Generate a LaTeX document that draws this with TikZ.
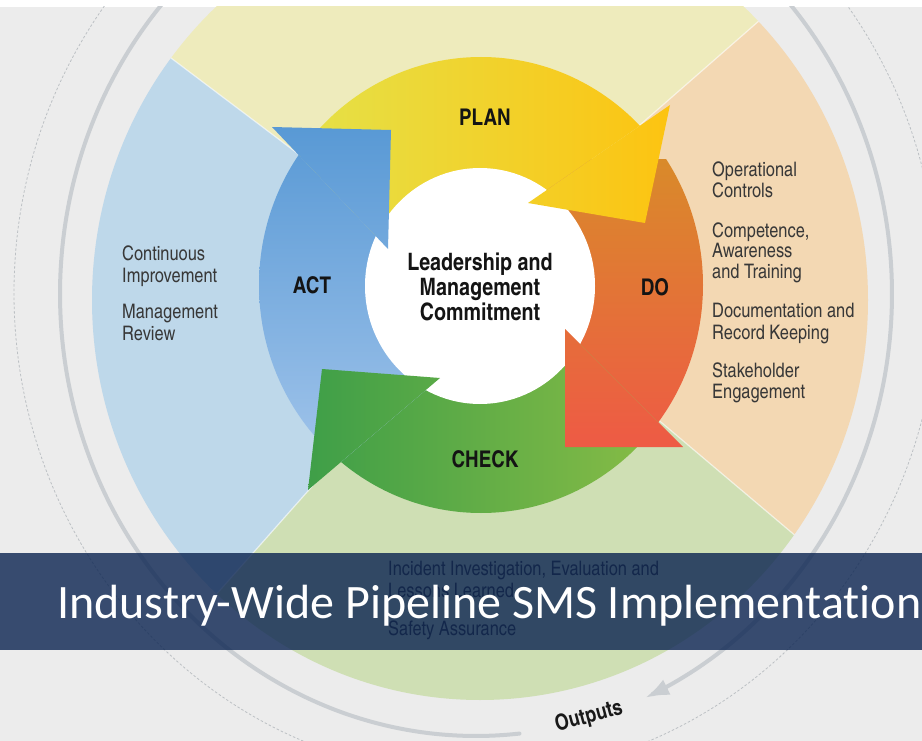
\documentclass[tikz,border=0pt]{standalone}
\usepackage{fontspec}
\usetikzlibrary{arrows.meta}
\newfontfamily\condfont{texgyreheroscn}[Extension=.otf, UprightFont=*-regular, BoldFont=*-bold]
\newfontfamily\bannerfont{Carlito}[Ligatures=NoCommon]
\definecolor{bg}{HTML}{ECECEC}
\definecolor{secY}{HTML}{EEEBBC}
\definecolor{secB}{HTML}{BED8EA}
\definecolor{secO}{HTML}{F3D8B3}
\definecolor{secG}{HTML}{CFDFB4}
\definecolor{ringgray}{HTML}{CACED2}
\definecolor{dashgray}{HTML}{BCC0C4}
\definecolor{planL}{HTML}{E4E24A}
\definecolor{planR}{HTML}{FEC20E}
\definecolor{actT}{HTML}{5597D4}
\definecolor{actB}{HTML}{A6C7EC}
\definecolor{doT}{HTML}{D98A2A}
\definecolor{doB}{HTML}{EF5846}
\definecolor{chkL}{HTML}{3D9E48}
\definecolor{chkR}{HTML}{8CBE45}
\definecolor{txt}{HTML}{383838}
\definecolor{bannercol}{RGB}{10,35,80}
\begin{document}
\begin{tikzpicture}[x=1pt,y=-1pt,
  sidetxt/.style={anchor=base west, inner sep=0pt, font=\condfont\fontsize{20}{22}\selectfont, text=txt},
  pdcalabel/.style={anchor=base, inner sep=0pt, font=\condfont\bfseries\fontsize{23}{26}\selectfont, text=black!92},
  centertxt/.style={anchor=base, inner sep=0pt, font=\condfont\bfseries\fontsize{24}{26}\selectfont, text=black!92},
  sepline/.style={white, line width=1.2pt, opacity=0.6},
  dashring/.style={dashgray, line width=0.8pt, dash pattern=on 2.5pt off 2pt},
  outring/.style={ringgray, line width=4pt, line cap=round},
  planshade/.style={left color=planL, right color=planR},
  actshade/.style={top color=actT, bottom color=actB},
  doshade/.style={top color=doT, bottom color=doB},
  chkshade/.style={left color=chkL, right color=chkR}]
\useasboundingbox (0,0) rectangle (922,741);
\fill[white] (0,0) rectangle (922,741);
\begin{scope}
\clip (0,7) rectangle (922,741);
\fill[bg] (0,7) rectangle (922,741);
% outer rings
\draw[dashring] (476,293) ellipse [x radius=462pt, y radius=483pt];
\draw[outring, -{Latex[length=24pt,width=17pt]}] plot[domain=84:426, samples=200, smooth] ({476+416*cos(\x)},{294+442*sin(\x)});
% sectors
\coordinate (cs) at (480,288);
\coordinate (iBY) at (427,251); \coordinate (fBY) at (37,-43);
\coordinate (iYO) at (520,230); \coordinate (fYO) at (880,-85);
\coordinate (iGO) at (533,314); \coordinate (fGO) at (920,641);
\coordinate (iBG) at (441,341); \coordinate (fBG) at (159,659);
\begin{scope}
\clip (480,300) ellipse [x radius=388pt, y radius=400pt];
\fill[secY] (cs) -- (iBY) -- (fBY) -- (480,-300) -- (fYO) -- (iYO) -- cycle;
\fill[secO] (cs) -- (iYO) -- (fYO) -- (1100,288) -- (fGO) -- (iGO) -- cycle;
\fill[secG] (cs) -- (iGO) -- (fGO) -- (480,900) -- (fBG) -- (iBG) -- cycle;
\fill[secB] (cs) -- (iBG) -- (fBG) -- (-150,288) -- (fBY) -- (iBY) -- cycle;
\draw[sepline] (iBY) -- (fBY);
\draw[sepline] (iYO) -- (fYO);
\draw[sepline] (iGO) -- (fGO);
\draw[sepline] (iBG) -- (fBG);
\end{scope}
% sector texts
\node[sidetxt] (l1) at (122,260) {Continuous};
\node[sidetxt] (l2) at (122,282) {Improvement};
\node[sidetxt] (l3) at (122,318) {Management};
\node[sidetxt] (l4) at (122,340) {Review};
\node[sidetxt] (r1) at (712,177) {Operational};
\node[sidetxt] (r2) at (712,198) {Controls};
\node[sidetxt] (r3) at (712,237) {Competence,};
\node[sidetxt] (r4) at (712,258) {Awareness};
\node[sidetxt] (r5) at (712,279) {and Training};
\node[sidetxt] (r6) at (712,317) {Documentation and};
\node[sidetxt] (r7) at (712,339) {Record Keeping};
\node[sidetxt] (r8) at (712,377) {Stakeholder};
\node[sidetxt] (r9) at (712,398) {Engagement};
\node[sidetxt] (b1) at (388,575) {Incident Investigation, Evaluation and};
\node[sidetxt] (b2) at (388,597) {Lessons Learned};
\node[sidetxt] (b3) at (388,635) {Safety Assurance};
% PDCA ring
\coordinate (O) at (481,285);
\coordinate (aT) at (391,130); \coordinate (aB1) at (272,127); \coordinate (aB2) at (388,249); \coordinate (aF) at (156,5);
\coordinate (pT) at (645,223); \coordinate (pB1) at (670,105); \coordinate (pB2) at (528,203); \coordinate (pF) at (812,7);
\coordinate (dT) at (565,447); \coordinate (dB1) at (683,447); \coordinate (dB2) at (565,329); \coordinate (dF) at (801,565);
\coordinate (cT) at (322,369); \coordinate (cB1) at (308,490); \coordinate (cB2) at (440,378); \coordinate (cF) at (176,602);
\begin{scope}
\clip (O) ellipse [x radius=222pt, y radius=228pt];
\begin{scope}
\clip (O) -- (aB2) -- (aF) -- (481,-300) -- (pF) -- (pB2) -- cycle;
\shade[planshade] (290,40) rectangle (690,260);
\end{scope}
\begin{scope}
\clip (O) -- (pB2) -- (pF) -- (1100,285) -- (dF) -- (dB2) -- cycle;
\shade[doshade] (520,160) rectangle (720,460);
\end{scope}
\begin{scope}
\clip (O) -- (dB2) -- (dF) -- (481,900) -- (cF) -- (cB2) -- cycle;
\shade[chkshade] (300,300) rectangle (680,520);
\end{scope}
\begin{scope}
\clip (O) -- (cB2) -- (cF) -- (-150,285) -- (aF) -- (aB2) -- cycle;
\shade[actshade] (250,110) rectangle (430,490);
\end{scope}
\end{scope}
\fill[white] (480,286) ellipse [x radius=115pt, y radius=118pt];
% heads
\begin{scope}
\clip (aT) -- (aB1) -- (aB2) -- cycle;
\shade[actshade] (250,110) rectangle (430,490);
\end{scope}
\begin{scope}
\clip (pT) -- (pB1) -- (pB2) -- cycle;
\shade[planshade] (290,40) rectangle (690,260);
\end{scope}
\begin{scope}
\clip (dT) -- (dB1) -- (dB2) -- cycle;
\shade[doshade] (520,160) rectangle (720,460);
\end{scope}
\begin{scope}
\clip (cT) -- (cB1) -- (cB2) -- cycle;
\shade[chkshade] (300,300) rectangle (680,520);
\end{scope}
% labels
\node[pdcalabel] (plan) at (485,126) {PLAN};
\node[pdcalabel] (do) at (655,295) {DO};
\node[pdcalabel] (check) at (485,467) {CHECK};
\node[pdcalabel] (act) at (312,294) {ACT};
\node[centertxt] (c1) at (480,270) {Leadership and};
\node[centertxt] (c2) at (480,295) {Management};
\node[centertxt] (c3) at (480,320) {Commitment};
\node[inner sep=0pt, rotate=15, font=\condfont\bfseries\fontsize{22}{24}\selectfont, text=black!90] (outputs) at (589,717) {Outputs};
% banner
\fill[bannercol, opacity=0.8] (0,553) rectangle (922,650);
\node[anchor=base west, inner sep=0pt, font=\bannerfont\fontsize{48}{52}\selectfont, text=white] (title) at (57,618) {Industry-Wide Pipeline SMS Implementation};
\end{scope}
\end{tikzpicture}
\end{document}
